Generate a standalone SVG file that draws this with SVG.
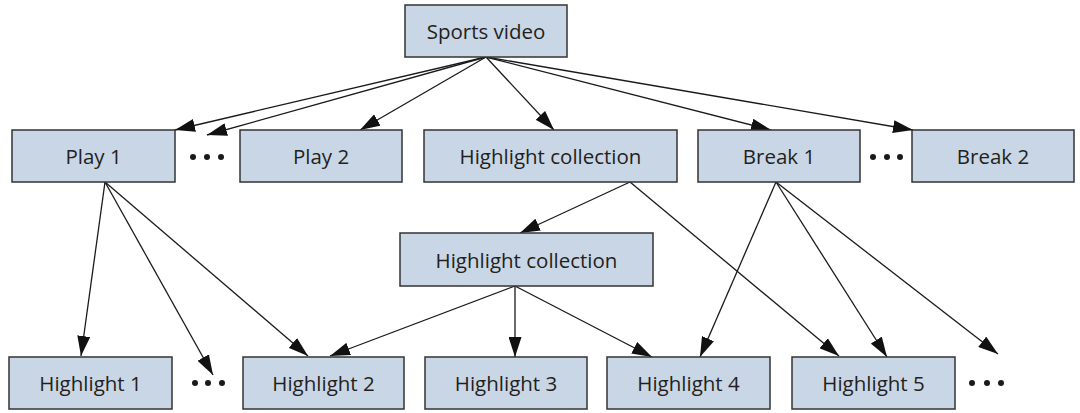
<svg xmlns="http://www.w3.org/2000/svg" width="1080" height="413" viewBox="0 0 1080 413">
  <style>
    .box { fill: #c9d6e5; stroke: #333333; stroke-width: 1.5; }
    .lbl { font-family: "Open Sans", "Noto Sans", sans-serif; font-size: 20.5px; fill: #231f20; text-anchor: middle; dominant-baseline: central; }
    .edge { stroke: #1a1a1a; stroke-width: 1.3; fill: none; marker-end: url(#arrow); }
    .dot { fill: #1a1a1a; }
  </style>
  <defs>
    <marker id="arrow" markerUnits="userSpaceOnUse" markerWidth="20" markerHeight="13" refX="20" refY="6.5" orient="auto">
      <path d="M0,0 L20,6.5 L0,13 z" fill="#111111"/>
    </marker>
  </defs>
  <rect width="1080" height="413" fill="#ffffff"/>

  <g id="connectors">
    <line class="edge" x1="486" y1="57" x2="175" y2="130"/>
    <line class="edge" x1="486" y1="57" x2="207" y2="135"/>
    <line class="edge" x1="486" y1="57" x2="360" y2="130"/>
    <line class="edge" x1="486" y1="57" x2="554" y2="130"/>
    <line class="edge" x1="486" y1="57" x2="771" y2="130"/>
    <line class="edge" x1="486" y1="57" x2="913" y2="130"/>
    <line class="edge" x1="105" y1="182" x2="81" y2="356"/>
    <line class="edge" x1="105" y1="182" x2="213" y2="375"/>
    <line class="edge" x1="105" y1="182" x2="308" y2="356"/>
    <line class="edge" x1="630" y1="182" x2="520" y2="233"/>
    <line class="edge" x1="630" y1="182" x2="839" y2="356"/>
    <line class="edge" x1="776" y1="182" x2="700" y2="357"/>
    <line class="edge" x1="776" y1="182" x2="887" y2="357"/>
    <line class="edge" x1="776" y1="182" x2="998" y2="354"/>
    <line class="edge" x1="515" y1="286" x2="330" y2="356"/>
    <line class="edge" x1="515" y1="286" x2="515" y2="357"/>
    <line class="edge" x1="515" y1="286" x2="652" y2="357"/>
  </g>

  <g id="sports-video"><rect class="box" x="405" y="5" width="162" height="52"/><text class="lbl" x="486" y="31">Sports video</text></g>
  <g id="play1"><rect class="box" x="12" y="130" width="163" height="52"/><text class="lbl" x="93.5" y="156">Play 1</text></g>
  <g id="dots-play"><circle class="dot" cx="193" cy="157" r="3"/><circle class="dot" cx="207" cy="157" r="3"/><circle class="dot" cx="221" cy="157" r="3"/></g>
  <g id="play2"><rect class="box" x="240" y="130" width="162" height="52"/><text class="lbl" x="321" y="156">Play 2</text></g>
  <g id="highlight-collection-1"><rect class="box" x="424" y="130" width="253" height="52"/><text class="lbl" x="550.5" y="156">Highlight collection</text></g>
  <g id="break1"><rect class="box" x="698" y="130" width="162" height="52"/><text class="lbl" x="779" y="156">Break 1</text></g>
  <g id="dots-break"><circle class="dot" cx="873" cy="157" r="3"/><circle class="dot" cx="887" cy="157" r="3"/><circle class="dot" cx="900" cy="157" r="3"/></g>
  <g id="break2"><rect class="box" x="912" y="130" width="162" height="52"/><text class="lbl" x="993" y="156">Break 2</text></g>
  <g id="highlight-collection-2"><rect class="box" x="400" y="233" width="253" height="53"/><text class="lbl" x="526.5" y="259.5">Highlight collection</text></g>
  <g id="highlight1"><rect class="box" x="9" y="357" width="163" height="52"/><text class="lbl" x="90.5" y="383">Highlight 1</text></g>
  <g id="dots-h1"><circle class="dot" cx="195" cy="383" r="3"/><circle class="dot" cx="208" cy="383" r="3"/><circle class="dot" cx="222" cy="383" r="3"/></g>
  <g id="highlight2"><rect class="box" x="243" y="357" width="161" height="52"/><text class="lbl" x="323.5" y="383">Highlight 2</text></g>
  <g id="highlight3"><rect class="box" x="425" y="357" width="162" height="52"/><text class="lbl" x="506" y="383">Highlight 3</text></g>
  <g id="highlight4"><rect class="box" x="607" y="357" width="163" height="52"/><text class="lbl" x="688.5" y="383">Highlight 4</text></g>
  <g id="highlight5"><rect class="box" x="792" y="357" width="163" height="52"/><text class="lbl" x="873.5" y="383">Highlight 5</text></g>
  <g id="dots-h5"><circle class="dot" cx="972" cy="383" r="3"/><circle class="dot" cx="987" cy="383" r="3"/><circle class="dot" cx="1001" cy="383" r="3"/></g>
</svg>
